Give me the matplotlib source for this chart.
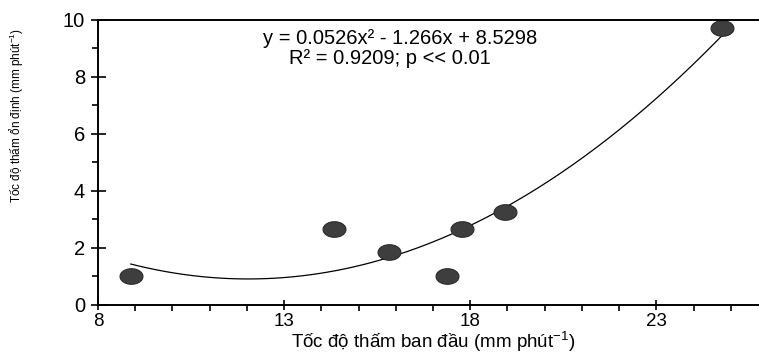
import numpy as np
import matplotlib
matplotlib.use('Agg')
import matplotlib.pyplot as plt
from matplotlib.path import Path
from matplotlib.ticker import MultipleLocator

plt.rcParams['font.family'] = ['Liberation Sans', 'DejaVu Sans']
plt.rcParams['mathtext.fontset'] = 'custom'
plt.rcParams['mathtext.rm'] = 'Liberation Sans'
plt.rcParams['mathtext.it'] = 'Liberation Sans'

# du lieu doc tu hinh
toc_do_ban_dau = [8.88, 14.35, 15.82, 17.38, 17.77, 18.93, 24.77]
toc_do_on_dinh = [1.03, 2.65, 1.87, 1.03, 2.65, 3.25, 9.71]
he_so = [0.0526, -1.266, 8.5298]   # y = a x^2 + b x + c
x_ticks = [8, 13, 18, 23]
y_ticks = [0, 2, 4, 6, 8, 10]
phuong_trinh = 'y = 0.0526x² - 1.266x + 8.5298'
r2_text = 'R² = 0.9209; p << 0.01'

fig = plt.figure(figsize=(7.59, 3.56), dpi=100)
ax = fig.add_axes([98/759, 51/356, 670/759, 285.5/356])

# marker hinh elip (hinh goc bi keo gian ngang)
t = np.linspace(0, 2*np.pi, 60)
elip = Path(np.column_stack([np.cos(t), 0.68*np.sin(t)]), closed=True)

xs = np.linspace(min(toc_do_ban_dau), max(toc_do_ban_dau), 200)
ax.plot(xs, np.polyval(he_so, xs), color='black', lw=0.9)
ax.plot(toc_do_ban_dau, toc_do_on_dinh, ls='none', marker=elip, ms=16.5,
        mfc='#3e3e3e', mec='#2a2a2a', mew=0.8)

ax.set_xlim(8, 26)
ax.set_ylim(0, 10)
ax.set_xticks(x_ticks)
ax.set_yticks(y_ticks)
ax.xaxis.set_minor_locator(MultipleLocator(1))
ax.yaxis.set_minor_locator(MultipleLocator(1))

for s in ['left', 'bottom', 'top']:
    ax.spines[s].set_linewidth(1.4)
ax.spines['right'].set_visible(False)

ax.tick_params(axis='y', which='major', direction='inout', length=10.8, width=1.2,
               labelsize=14.5, pad=4)
ax.tick_params(axis='x', which='major', direction='inout', length=7.2, width=1.2,
               labelsize=13.5, pad=2)
ax.tick_params(which='minor', direction='out', length=4.3, width=1.2)

ax.set_xlabel('Tốc độ thấm ban đầu (mm phút$^{-1}$)', fontsize=13.5, labelpad=0)
fig.text(17/759, 1 - 115/356, 'Tốc độ thấm ổn định (mm phút$^{-1}$)',
         rotation=90, ha='center', va='center', fontsize=8.5,
         family=['Liberation Sans Narrow', 'Liberation Sans'])

ax.text(0.4507, 0.932, phuong_trinh, transform=ax.transAxes, ha='center',
        va='center', fontsize=14.5)
ax.text(0.436, 0.865, r2_text, transform=ax.transAxes, ha='center',
        va='center', fontsize=14.5)

fig.savefig('out.png', dpi=100)
